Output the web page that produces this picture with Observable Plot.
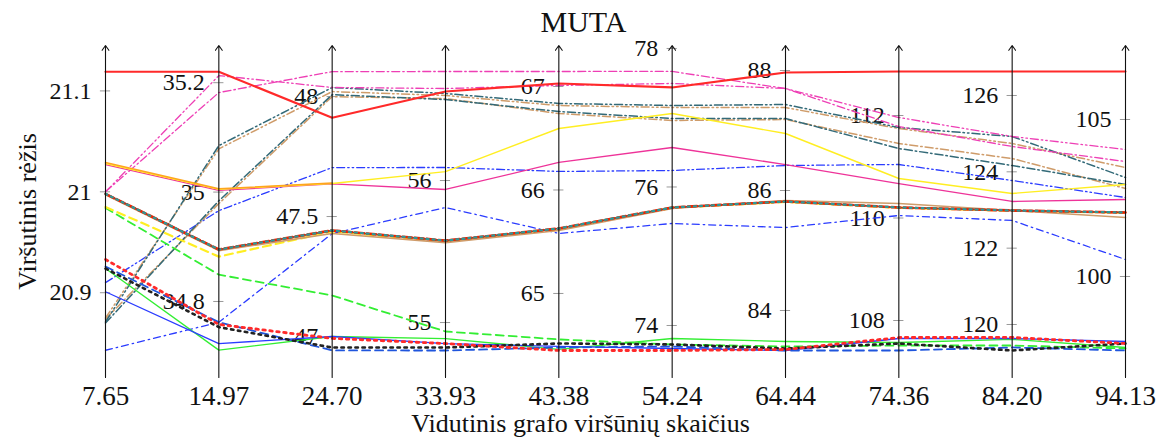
<!DOCTYPE html>
<html>
<head>
<meta charset="utf-8">
<script src="https://cdn.jsdelivr.net/npm/d3@7"></script>
<script src="https://cdn.jsdelivr.net/npm/@observablehq/plot@0.6"></script>
<style>
  html, body { margin: 0; padding: 0; background: #fff; }
  #chart svg { display: block; }
</style>
</head>
<body>
<div id="chart"></div>
<script>
// ---- Categories / axis definitions ----
const xLabels = ["7.65","14.97","24.70","33.93","43.38","54.24","64.44","74.36","84.20","94.13"];
const axisMin = [20.816, 34.661, 46.829, 54.613, 64.188, 73.249, 82.883, 106.888, 118.611, 96.783];
const axisMax = [21.145, 35.268, 48.213, 56.951, 67.396, 78.043, 88.417, 113.366, 127.310, 107.357];
const axisTicks = [
  [20.9, 21, 21.1],
  [34.8, 35, 35.2],
  [47, 47.5, 48],
  [55, 56],
  [65, 66, 67],
  [74, 76, 78],
  [84, 86, 88],
  [108, 110, 112],
  [120, 122, 124, 126],
  [100, 105]
];
const title = "MUTA";
const xTitle = "Vidutinis grafo viršūnių skaičius";
const yTitle = "Viršutinis rėžis";

// ---- Series values (one per vertical axis) ----
const redTop            = [21.119, 35.220, 47.912, 56.627, 67.029, 77.437, 87.967, 112.859, 126.629, 106.529];
const magentaDashDot    = [21.000, 35.182, 48.104, 56.768, 67.145, 77.668, 87.700, 111.785, 124.664, 103.662];
const magentaDashDotDot = [21.000, 35.213, 48.038, 56.648, 67.010, 77.495, 87.700, 111.961, 124.926, 104.045];
const tealDashDotDot    = [20.871, 35.085, 48.038, 56.613, 66.836, 77.177, 87.433, 111.766, 124.926, 103.153];
const tanDashDotDot     = [20.875, 35.079, 48.021, 56.599, 66.816, 77.148, 87.383, 111.746, 124.742, 103.471];
const tealDashDot       = [20.870, 34.984, 48.008, 56.570, 66.758, 76.989, 87.200, 111.356, 124.166, 102.930];
const tanDashDot        = [20.874, 34.979, 48.000, 56.577, 66.739, 76.960, 87.183, 111.454, 124.349, 102.803];
const yellowSolid       = [21.028, 35.005, 47.638, 56.063, 66.594, 77.061, 86.950, 110.771, 123.433, 102.930];
const pinkSolid         = [21.027, 35.003, 47.636, 55.937, 66.266, 76.570, 86.433, 110.673, 123.223, 102.452];
const orangeSolid       = [21.029, 35.006, 47.640, null, null, null, null, null, null, null];
const blueDashDotDot    = [20.910, 34.966, 47.704, 56.092, 66.179, 76.238, 86.417, 111.044, 123.773, 102.516];
const blueDashDot       = [20.843, 34.762, 47.429, 55.810, 65.580, 75.473, 85.383, 110.049, 122.725, 100.541];
const slateSolid        = [20.998, 34.895, 47.442, 55.577, 65.628, 75.704, 85.817, 110.205, 122.987, 102.038];
const redDashed         = [20.998, 34.895, 47.442, 55.577, 65.628, 75.704, 85.817, 110.205, 122.987, 102.038];
const tealDotted        = [20.998, 34.895, 47.442, 55.577, 65.628, 75.704, 85.817, 110.205, 122.987, 102.038];
const tanSolid          = [20.997, 34.893, 47.429, 55.563, 65.609, 75.690, 85.833, 110.283, 122.987, 101.879];
const yellowDashed      = [20.985, 34.882, 47.438, 55.570, 65.620, 75.700, 85.810, 110.200, 122.980, 102.030];
const greenDashed       = [20.984, 34.849, 47.171, 54.937, 64.556, 73.726, 83.400, 107.512, 119.450, 97.707];
const greenSolid        = [20.924, 34.711, 47.000, 54.887, 64.459, 73.812, 83.483, 107.571, 119.608, 97.739];
const blueSolid         = [20.901, 34.723, 47.000, 54.852, 64.488, 73.668, 83.333, 107.649, 119.634, 97.930];
const redDotted         = [20.933, 34.758, 46.992, 54.852, 64.449, 73.639, 83.350, 107.668, 119.660, 97.866];
const blackDotted       = [20.924, 34.753, 46.954, 54.824, 64.517, 73.726, 83.367, 107.551, 119.319, 97.866];
const blueDashed        = [20.926, 34.762, 46.942, 54.803, 64.478, 73.697, 83.333, 107.415, 119.398, 97.643];

// ---- Styles (separate from values), in drawing order ----
const DD = "8,3,1.5,3";          // dash dot
const DDD = "8,3,1.5,3,1.5,3";   // dash dot dot
const series = [
  {values: blueDashDot,       stroke: "#2b3cff", width: 1.3, dash: "7,4,1.5,4"},
  {values: blueDashDotDot,    stroke: "#2b3cff", width: 1.3, dash: DDD},
  {values: tanDashDot,        stroke: "#cf9c6a", width: 1.5, dash: DD},
  {values: tealDashDot,       stroke: "#336a78", width: 1.5, dash: DD},
  {values: tanDashDotDot,     stroke: "#cf9c6a", width: 1.5, dash: DDD},
  {values: tealDashDotDot,    stroke: "#336a78", width: 1.5, dash: DDD},
  {values: magentaDashDot,    stroke: "#ee3fb5", width: 1.3, dash: DD},
  {values: magentaDashDotDot, stroke: "#ee3fb5", width: 1.3, dash: DDD},
  {values: pinkSolid,         stroke: "#ee3399", width: 1.3, dash: null},
  {values: yellowSolid,       stroke: "#ffee22", width: 1.4, dash: null},
  {values: orangeSolid,       stroke: "#ffa51e", width: 1.5, dash: null},
  {values: greenDashed,       stroke: "#33ee33", width: 1.8, dash: "8,5"},
  {values: yellowDashed,      stroke: "#ffee22", width: 2.2, dash: "8,5"},
  {values: tanSolid,          stroke: "#cf9c6a", width: 1.6, dash: null},
  {values: slateSolid,        stroke: "#2f5a66", width: 1.6, dash: null},
  {values: redDashed,         stroke: "#ee2200", width: 2.6, dash: "9,3"},
  {values: tealDotted,        stroke: "#2a9a9a", width: 2.2, dash: "2,4"},
  {values: greenSolid,        stroke: "#33ee33", width: 1.3, dash: null},
  {values: blueSolid,         stroke: "#2b3cff", width: 1.3, dash: null},
  {values: blueDashed,        stroke: "#1f55dd", width: 1.8, dash: "8,5"},
  {values: blackDotted,       stroke: "#222222", width: 2.6, dash: "2.5,4.5"},
  {values: redDotted,         stroke: "#ff2a2a", width: 2.8, dash: "2.5,4.5"},
  {values: redTop,            stroke: "#ff2a2a", width: 2.2, dash: null}
];

// ---- Build tables for Plot ----
const norm = (i, v) => (v == null ? NaN : (v - axisMin[i]) / (axisMax[i] - axisMin[i]));
const idx = d3.range(xLabels.length);
const tickRows = axisTicks.flatMap((ts, i) => ts.map(t => ({i, n: norm(i, t), label: String(t)})));
const tickHalf = 0.045;

const lineMarks = series.map(s =>
  Plot.line(s.values.map((v, i) => ({i, n: norm(i, v)})), {
    x: "i", y: "n",
    stroke: s.stroke, strokeWidth: s.width,
    strokeDasharray: s.dash ?? undefined,
    strokeLinejoin: "round"
  })
);

const chart = Plot.plot({
  width: 1156,
  height: 437,
  marginTop: 45,
  marginBottom: 60,
  marginLeft: 105,
  marginRight: 31,
  x: {domain: [0, xLabels.length - 1], axis: null},
  y: {domain: [0, 1], axis: null},
  style: {fontFamily: "'Liberation Serif', 'DejaVu Serif', serif", background: "#fff", color: "#111"},
  marks: [
    // per-axis tick marks
    Plot.ruleY(tickRows, {y: "n", x1: d => d.i - tickHalf, x2: d => d.i + tickHalf, stroke: "#999", strokeWidth: 1}),
    // per-axis tick labels
    Plot.text(tickRows, {x: "i", y: "n", text: "label", textAnchor: "end", dx: -14, fontSize: 24, fill: "#111"}),
    // series
    ...lineMarks,
    // vertical axes with arrow heads
    Plot.arrow(idx, {x1: d => d, x2: d => d, y1: () => 0, y2: () => 1, stroke: "#111", strokeWidth: 1.1, headLength: 8, headAngle: 70}),
    // x tick labels
    Plot.text(idx, {x: d => d, frameAnchor: "bottom", lineAnchor: "middle", text: d => xLabels[d], dy: 19, fontSize: 27, fill: "#111"}),
    // titles
    Plot.text([title], {frameAnchor: "top", lineAnchor: "middle", dy: -23, dx: -32, fontSize: 30, fill: "#111"}),
    Plot.text([xTitle], {frameAnchor: "bottom", lineAnchor: "middle", dy: 46, dx: -35, fontSize: 26, fill: "#111"}),
    Plot.text([yTitle], {frameAnchor: "left", textAnchor: "middle", lineAnchor: "middle", rotate: -90, dx: -78, fontSize: 26, fill: "#111"})
  ]
});

document.getElementById("chart").appendChild(chart);
</script>
</body>
</html>
